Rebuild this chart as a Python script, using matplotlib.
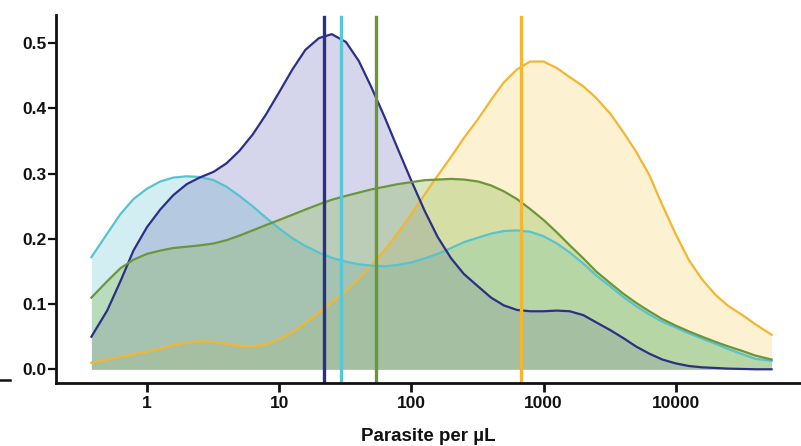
import matplotlib
matplotlib.use("Agg")
import matplotlib.pyplot as plt
from matplotlib.lines import Line2D

plt.rcParams['font.family'] = ['Liberation Sans', 'DejaVu Sans']

# Parasite density grid (parasites per µL)
density = [0.38, 0.5, 0.63, 0.79, 1, 1.26, 1.58, 2, 2.5, 3.2, 4, 5, 6.3, 7.9,
           10, 12.6, 15.8, 20, 25, 32, 40, 50, 63, 79, 100, 126, 158, 200, 250,
           320, 400, 500, 630, 790, 1000, 1260, 1580, 2000, 2500, 3200, 4000,
           5000, 6300, 7900, 10000, 12600, 15800, 20000, 25000, 32000, 40000, 53000]

navy = [0.050, 0.090, 0.135, 0.182, 0.218, 0.245, 0.267, 0.284, 0.294, 0.303,
        0.316, 0.335, 0.360, 0.390, 0.425, 0.460, 0.490, 0.508, 0.514, 0.502,
        0.473, 0.432, 0.386, 0.338, 0.289, 0.243, 0.203, 0.170, 0.146, 0.127,
        0.110, 0.098, 0.091, 0.089, 0.089, 0.090, 0.089, 0.083, 0.072, 0.060,
        0.048, 0.035, 0.024, 0.015, 0.009, 0.005, 0.003, 0.002, 0.001, 0.0005,
        0.0, 0.0]

cyan = [0.172, 0.208, 0.238, 0.261, 0.277, 0.288, 0.294, 0.296, 0.295, 0.290,
        0.280, 0.266, 0.250, 0.233, 0.216, 0.201, 0.189, 0.179, 0.171, 0.165,
        0.161, 0.159, 0.158, 0.160, 0.164, 0.170, 0.177, 0.186, 0.195, 0.202,
        0.208, 0.212, 0.213, 0.211, 0.204, 0.193, 0.179, 0.162, 0.144, 0.127,
        0.111, 0.097, 0.084, 0.073, 0.064, 0.055, 0.047, 0.039, 0.031, 0.023,
        0.016, 0.013]

green = [0.110, 0.135, 0.155, 0.168, 0.177, 0.182, 0.186, 0.188, 0.190, 0.193,
         0.198, 0.205, 0.213, 0.221, 0.229, 0.237, 0.245, 0.253, 0.260, 0.266,
         0.271, 0.276, 0.280, 0.284, 0.287, 0.290, 0.291, 0.292, 0.291, 0.288,
         0.282, 0.273, 0.261, 0.246, 0.229, 0.210, 0.190, 0.170, 0.150, 0.132,
         0.116, 0.102, 0.089, 0.077, 0.067, 0.058, 0.050, 0.042, 0.035, 0.028,
         0.021, 0.015]

yellow = [0.010, 0.015, 0.019, 0.023, 0.027, 0.032, 0.037, 0.041, 0.043, 0.042,
          0.039, 0.036, 0.035, 0.038, 0.046, 0.057, 0.071, 0.087, 0.103, 0.120,
          0.139, 0.160, 0.183, 0.209, 0.238, 0.268, 0.297, 0.326, 0.355, 0.384,
          0.413, 0.440, 0.460, 0.472, 0.472, 0.462, 0.448, 0.434, 0.416, 0.392,
          0.364, 0.334, 0.298, 0.252, 0.207, 0.167, 0.138, 0.114, 0.097, 0.083,
          0.069, 0.053]

# Medians (vertical lines)
medians = [21.8, 29.2, 54, 671]

series = [yellow, cyan, navy, green]
line_colors = ['#f2b632', '#57c3cf', '#2c2f84', '#6c963a']
fill_colors = ['#f7d35a', '#6cc9d6', '#6a6cb8', '#86b84e']
fill_alpha = [0.28, 0.30, 0.28, 0.33]
median_colors = ['#2c2f84', '#57c7d6', '#6c963a', '#f4b530']

fig = plt.figure(figsize=(8.01, 4.46), dpi=100)
ax = fig.add_axes([56 / 801, 62.7 / 446, 745 / 801, 368.3 / 446])

for ys, fc, a in zip(series, fill_colors, fill_alpha):
    ax.fill_between(density, 0, ys, color=fc, alpha=a, linewidth=0)
for ys, lc in zip(series, line_colors):
    ax.plot(density, ys, color=lc, lw=1.6, solid_joinstyle='round')
for m, c in zip(medians, median_colors):
    ax.axvline(m, ymin=0, ymax=0.995, color=c, lw=2.4)

ax.set_xscale('log')
ax.set_xlim(10 ** -0.688, 10 ** 4.947)
ax.set_ylim(-0.0215, 0.5434)
ax.set_xticks([1, 10, 100, 1000, 10000])
ax.set_xticklabels(['1', '10', '100', '1000', '10000'])
ax.minorticks_off()
ax.set_yticks([0.0, 0.1, 0.2, 0.3, 0.4, 0.5])
ax.set_yticklabels(['0.0', '0.1', '0.2', '0.3', '0.4', '0.5'])

for s in ['top', 'right']:
    ax.spines[s].set_visible(False)
for s in ['left', 'bottom']:
    ax.spines[s].set_linewidth(2.0)
    ax.spines[s].set_color('#111111')

ax.tick_params(axis='y', direction='out', length=5.5, width=1.6, pad=1,
               labelsize=12.5, colors='#111111')
ax.tick_params(axis='x', direction='out', length=6.5, width=2.0, pad=3,
               labelsize=12.5, colors='#111111')
for lab in ax.get_xticklabels() + ax.get_yticklabels():
    lab.set_fontweight('bold')

ax.set_xlabel('Parasite per µL', fontsize=13.5, fontweight='bold',
              color='#111111', labelpad=12)

fig.add_artist(Line2D([0 / 801, 10 / 801], [1 - 380 / 446, 1 - 380 / 446],
                      color='#111111', lw=1.8, transform=fig.transFigure))

fig.savefig('out.png', dpi=100)
